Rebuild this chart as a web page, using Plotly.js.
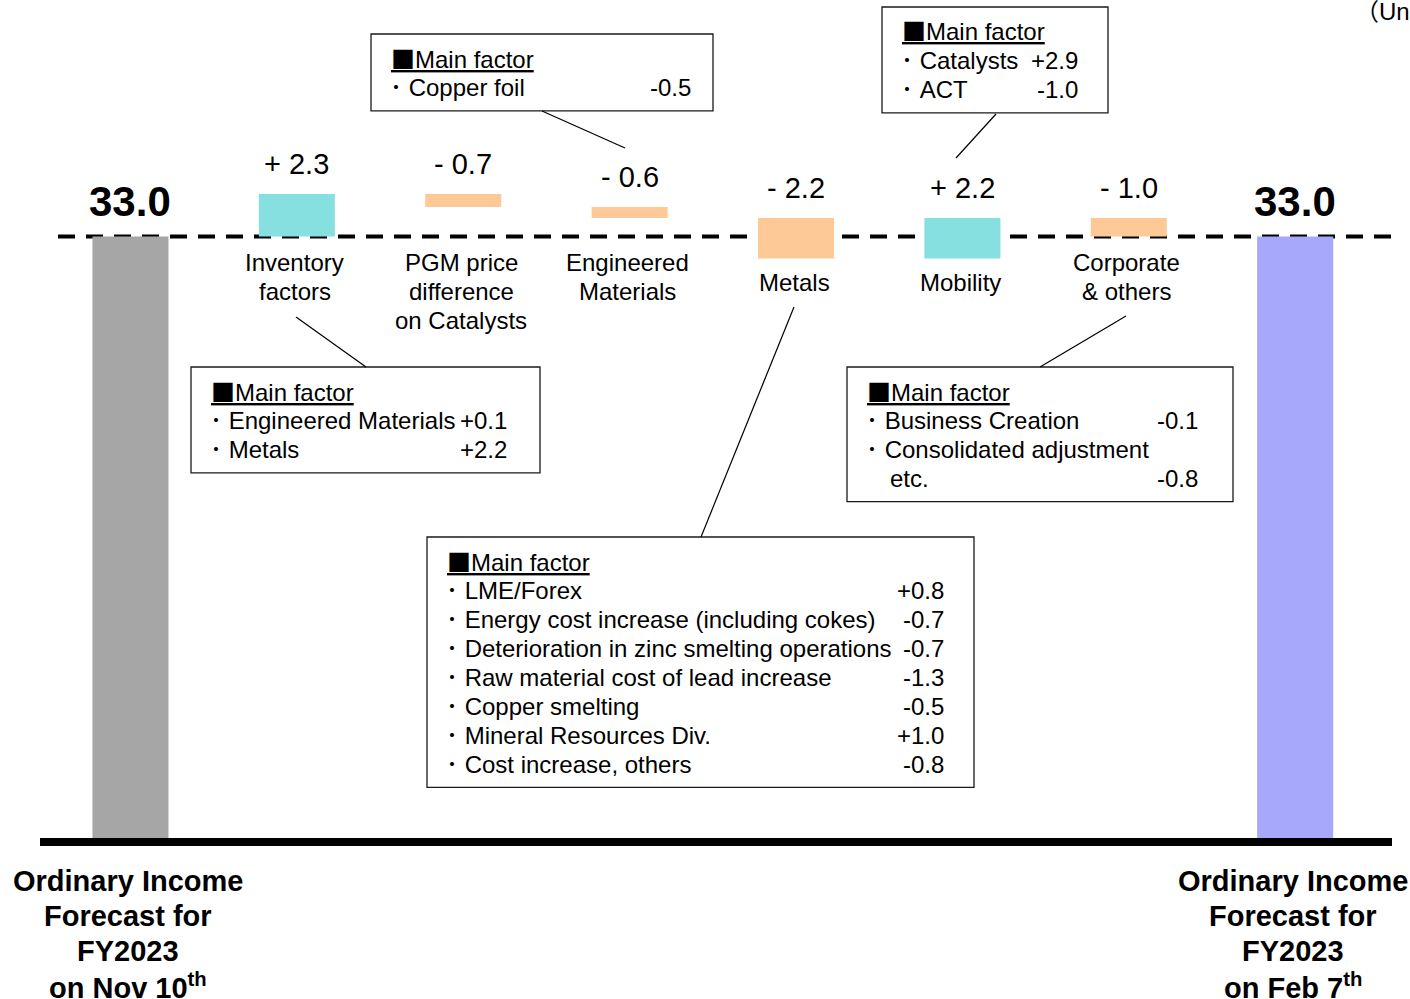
<!DOCTYPE html>
<html>
<head>
<meta charset="utf-8">
<script src="https://cdn.plot.ly/plotly-3.0.1.min.js"></script>
<style>
  html, body { margin: 0; padding: 0; background: #fff; }
  #chart { width: 1410px; height: 999px; }
</style>
</head>
<body>
<div id="chart"></div>
<script>
// ---- Values (100 million yen) ----
const startValue = 33.0;
const stepValues = [2.3, -0.7, -0.6, -2.2, 2.2, -1.0];
const stepLabels = [
  ['Inventory', 'factors'],
  ['PGM price', 'difference', 'on Catalysts'],
  ['Engineered', 'Materials'],
  ['Metals'],
  ['Mobility'],
  ['Corporate', '& others']
];
const totalLabels = [
  ['Ordinary Income', 'Forecast for', 'FY2023', 'on Nov 10<sup>th</sup>'],
  ['Ordinary Income', 'Forecast for', 'FY2023', 'on Feb 7<sup>th</sup>']
];
const unitLabel = '（Unit: 100 million yen）';
const factorHeading = 'Main factor';

// Main factor breakdowns per segment
const inventoryFactorNames = ['Engineered Materials', 'Metals'];
const inventoryFactorValues = ['+0.1', '+2.2'];
const engineeredFactorNames = ['Copper foil'];
const engineeredFactorValues = ['-0.5'];
const metalsFactorNames = [
  'LME/Forex',
  'Energy cost increase (including cokes)',
  'Deterioration in zinc smelting operations',
  'Raw material cost of lead increase',
  'Copper smelting',
  'Mineral Resources Div.',
  'Cost increase, others'
];
const metalsFactorValues = ['+0.8', '-0.7', '-0.7', '-1.3', '-0.5', '+1.0', '-0.8'];
const mobilityFactorNames = ['Catalysts', 'ACT'];
const mobilityFactorValues = ['+2.9', '-1.0'];
const corporateFactorNames = ['Business Creation', 'Consolidated adjustment', 'etc.'];
const corporateFactorValues = ['-0.1', '', '-0.8'];

// ---- Styling ----
const W = 1410, H = 999;
const FONT = 'Liberation Sans, Arial, Noto Sans CJK JP, sans-serif';
const increaseColor = '#86e0df';
const decreaseColor = '#fdca97';
const startColor = '#a6a6a6';
const endColor = '#a7a7fc';
const barWidth = 0.457;

const px = x => x / W;          // pixel -> paper x
const py = y => 1 - y / H;      // pixel -> paper y

// ---- Waterfall geometry ----
const nCats = stepValues.length + 2;
const xs = Array.from({length: nCats}, (_, i) => i);
let running = startValue;
const stepBase = [], stepTop = [];
stepValues.forEach(v => {
  stepBase.push(running);
  stepTop.push(Math.max(running, running + v));
  running += v;
});
const endValue = Math.round(running * 10) / 10;

const traces = [
  {
    type: 'bar',
    x: [0, nCats - 1],
    y: [startValue, endValue],
    width: barWidth,
    marker: {color: [startColor, endColor], line: {width: 0}},
    hoverinfo: 'skip'
  },
  {
    type: 'bar',
    x: xs.slice(1, nCats - 1),
    y: stepValues,
    base: stepBase,
    width: barWidth,
    marker: {color: stepValues.map(v => v >= 0 ? increaseColor : decreaseColor), line: {width: 0}},
    hoverinfo: 'skip'
  }
];

const annotations = [];
const shapes = [];

function text(t, opts) {
  annotations.push(Object.assign({
    text: t, showarrow: false, xref: 'paper', yref: 'paper',
    xanchor: 'left', yanchor: 'middle',
    font: {family: FONT, size: 24, color: '#000'}
  }, opts));
}

// Totals labels above first and last bar
[[0, startValue], [nCats - 1, endValue]].forEach(([x, v]) => {
  text('<b>' + v.toFixed(1) + '</b>', {
    xref: 'x', yref: 'y', x: x, y: v, xanchor: 'center', yshift: 35,
    font: {family: FONT, size: 42, color: '#000'}
  });
});

// Step value labels
stepValues.forEach((v, i) => {
  text((v >= 0 ? '+ ' : '- ') + Math.abs(v).toFixed(1), {
    xref: 'x', yref: 'y', x: i + 1, y: stepTop[i], xanchor: 'center', yshift: 30,
    font: {family: FONT, size: 29, color: '#000'}
  });
});

// Step category labels below the reference line
stepLabels.forEach((lines, i) => {
  const y0 = lines.length > 1 ? 262.5 : 282.5;
  lines.forEach((ln, k) => {
    text(ln, {xref: 'x', x: i + 1, xanchor: 'center', xshift: -2, y: py(y0 + 29 * k)});
  });
});

// Total labels under the axis
totalLabels.forEach((lines, j) => {
  const x = j === 0 ? 0 : nCats - 1;
  lines.forEach((ln, k) => {
    text('<b>' + ln + '</b>', {
      xref: 'x', x: x, xanchor: 'center', xshift: -2, y: py(880.5 + 35 * k),
      font: {family: FONT, size: 29, color: '#000'}
    });
  });
});

// Unit note
text(unitLabel, {x: px(1353), y: py(12)});

// Main factor boxes
const boxes = [
  {names: inventoryFactorNames, values: inventoryFactorValues, left: 191, top: 367, right: 540, valueRight: 509, link: [296, 317, 366, 367]},
  {names: engineeredFactorNames, values: engineeredFactorValues, left: 371, top: 34, right: 713, valueRight: 693, link: [542, 111, 625, 148]},
  {names: mobilityFactorNames, values: mobilityFactorValues, left: 882, top: 7, right: 1108, valueRight: 1080, link: [996, 114, 956, 158]},
  {names: corporateFactorNames, values: corporateFactorValues, left: 847, top: 367, right: 1233, valueRight: 1200, link: [1126, 316, 1040, 367]},
  {names: metalsFactorNames, values: metalsFactorValues, left: 427, top: 537, right: 974, valueRight: 946, link: [794, 307, 701, 537]}
];
const ROW = 28.9;
boxes.forEach(b => {
  const bottom = b.top + 48 + ROW * b.names.length;
  shapes.push({
    type: 'rect', xref: 'paper', yref: 'paper', layer: 'above',
    x0: px(b.left), x1: px(b.right), y0: py(b.top), y1: py(bottom),
    line: {color: '#1a1a1a', width: 1.3}, fillcolor: 'rgba(0,0,0,0)'
  });
  shapes.push({
    type: 'line', xref: 'paper', yref: 'paper', layer: 'above',
    x0: px(b.link[0]), y0: py(b.link[1]), x1: px(b.link[2]), y1: py(b.link[3]),
    line: {color: '#000', width: 1.2}
  });
  const tx = b.left + 20;
  const yHead = b.top + 23;
  text('<u><span style="font-family:Noto Sans CJK JP">■</span>' + factorHeading + '</u>', {x: px(tx - 2), y: py(yHead)});
  b.names.forEach((nm, i) => {
    const yy = yHead + ROW * (i + 1);
    const continued = i > 0 && b.values[i - 1] === '';
    if (continued) {
      // continuation of the previous item, no bullet; plain-font line sits 2px higher
      text(nm, {x: px(tx + 21), y: py(yy), yshift: -2});
    } else {
      text('<span style="font-family:Noto Sans CJK JP">･</span> ' + nm, {x: px(tx - 3), y: py(yy)});
    }
    if (b.values[i]) {
      // plain-font values share the baseline of the bullet line
      text(b.values[i], {x: px(b.valueRight), xanchor: 'right', y: py(yy), yshift: -2});
    }
  });
});

// Reference line at the starting level
shapes.push({
  type: 'line', xref: 'paper', yref: 'y', layer: 'below',
  x0: px(58), x1: px(1392), y0: startValue, y1: startValue,
  line: {color: '#000', width: 4, dash: '17px,11px'}
});
// Base axis line
shapes.push({
  type: 'rect', xref: 'paper', yref: 'y', layer: 'above',
  x0: px(40), x1: px(1392), ysizemode: 'pixel', yanchor: 0, y0: 0, y1: 8,
  line: {width: 0}, fillcolor: '#000'
});

const layout = {
  width: W, height: H,
  margin: {l: 0, r: 0, t: 0, b: 0, pad: 0},
  paper_bgcolor: '#fff', plot_bgcolor: '#fff',
  showlegend: false,
  barmode: 'overlay',
  xaxis: {range: [-0.784, 7.690], visible: false, fixedrange: true},
  yaxis: {range: [-8.28, 45.80], visible: false, fixedrange: true},
  annotations: annotations,
  shapes: shapes,
  font: {family: FONT}
};

Plotly.newPlot('chart', traces, layout, {staticPlot: true, displayModeBar: false});
</script>
</body>
</html>
